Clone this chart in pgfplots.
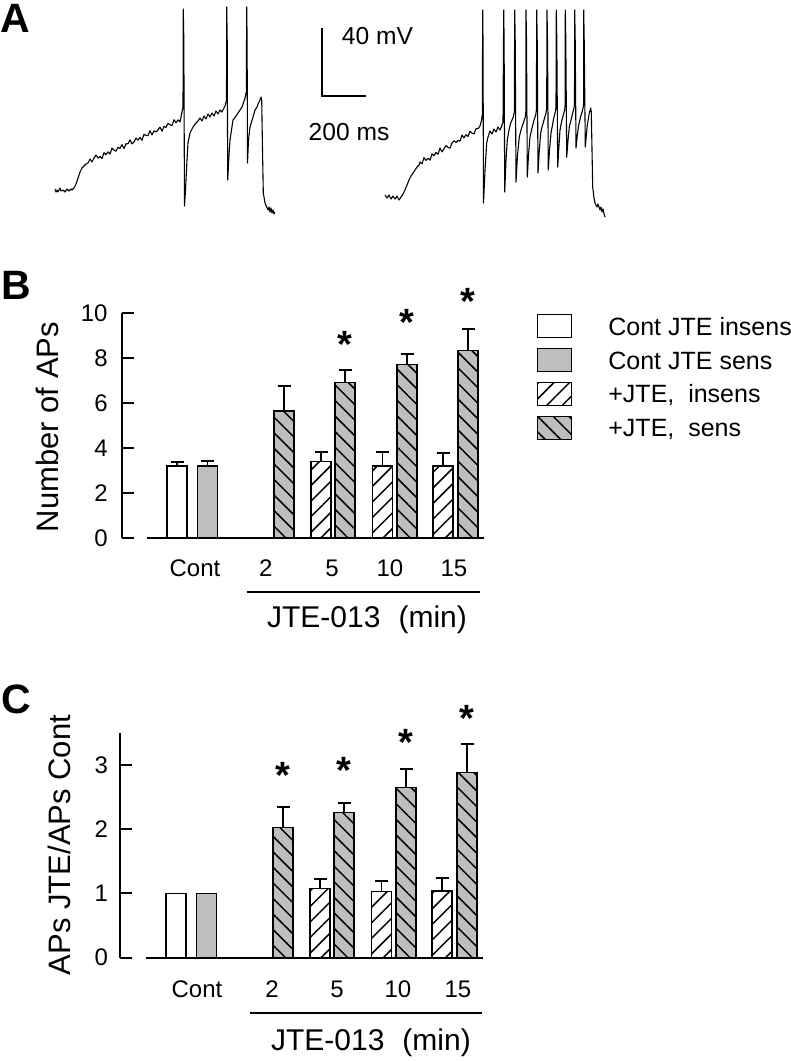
\documentclass[border=0pt]{standalone}
\usepackage{pgfplots}
\pgfplotsset{compat=1.18}
\usepackage{pgfplotstable}
\usepackage{fontspec}
\setmainfont{Liberation Sans}
\usetikzlibrary{patterns.meta}
\definecolor{bargray}{RGB}{190,190,190}

% Panel B data (x = horizontal position of the bar)
\pgfplotstableread{
x y e
177 3.2 0.19
}\bci
\pgfplotstableread{
x y e
207.5 3.2 0.22
}\bcs
\pgfplotstableread{
x y e
321 3.4 0.41
382.5 3.2 0.62
443 3.2 0.60
}\bji
\pgfplotstableread{
x y e
284 5.65 1.12
345 6.90 0.57
407 7.72 0.44
468 8.33 0.95
}\bjs
\pgfplotstableread{
x y
345 8.99
407 9.95
468 10.91
}\bst
% Panel C data
\pgfplotstableread{
x y
177 1.0
}\cci
\pgfplotstableread{
x y
207.5 1.0
}\ccs
\pgfplotstableread{
x y e
321 1.08 0.14
382.5 1.03 0.17
443 1.04 0.20
}\cji
\pgfplotstableread{
x y e
284 2.03 0.31
345 2.26 0.15
407 2.65 0.29
468 2.88 0.44
}\cjs
\pgfplotstableread{
x y
284 2.97
345 3.05
407 3.49
468 3.86
}\cst

\pgfplotsset{
  legimg/.style={legend image code/.code={%
      \draw[##1, line width=0.7pt] (0pt,-5.75pt) rectangle (17pt,5.75pt);}},
  barbase/.style={ybar, bar width=20, bar shift=0pt, draw=black, line width=0.7pt, legimg},
  s-ci/.style={barbase, fill=white},
  s-cs/.style={barbase, fill=bargray},
  s-ji/.style={barbase, fill=white, postaction={pattern={Lines[angle=45,distance=5.5pt,line width=0.75pt]}}},
  s-js/.style={barbase, fill=bargray, postaction={pattern={Lines[angle=-45,distance=5.5pt,line width=0.75pt]}}},
  s-star/.style={only marks, mark=text, text mark={*}, text mark as node=true,
      text mark style={font=\bfseries\fontsize{19}{19}\selectfont, inner sep=0pt, anchor=center, yshift=-4.2pt}, forget plot},
  panel/.style={
    scale only axis, width=181pt, clip=false,
    axis y line*=left, axis x line*=bottom,
    x axis line style={draw=none},
    y axis line style={line width=1pt},
    xtick style={draw=none},
    ytick style={line width=1pt, black},
    tick align=inside, major tick length=6pt,
    tick label style={font=\fontsize{12}{14}\selectfont},
    /pgf/number format/assume math mode=true,
    error bars/y dir=plus, error bars/y explicit,
    error bars/error bar style={line width=0.8pt, black},
    error bars/error mark options={rotate=90, line width=1pt, black, mark size=3.25pt},
  },
}

\begin{document}
\begin{tikzpicture}
\useasboundingbox (0,0) rectangle (395.5pt,-530.5pt);

% ---------------- Panel A ----------------
\begin{axis}[scale only axis, width=395.5pt, height=115pt, at={(0pt,0pt)}, anchor=north west,
  xmin=0, xmax=791, ymin=0, ymax=230, y dir=reverse, axis lines=none, clip=false]
\addplot[black, line width=0.55pt, line join=round] coordinates {
(55,189) (56,192) (57,190) (58,192) (60,188) (61,191) (63,190) (65,192) (67,189) (69,191) (71,189) (72,190)
(74,188) (76,184) (78,178) (80,172) (82,168) (84,166) (86,164)
(88,163) (90,159) (92,162) (94,158) (96,155) (98,158) (100,156.5) (102,158.6) (104,152.7) (106,154.8)
(108,151.9) (110,154) (112,148) (114,150.1) (116,151.2) (118,147.3) (120,148.4) (122,144.5) (124,148.6)
(126,143.7) (128,143.7) (130,139.8) (132,143.9) (134,142) (136,138.1) (138,140.2) (140,137.3) (142,140.3)
(144,134.4) (146,135.5) (148,135.6) (150,130.7) (152,134.8) (154,130.9) (156,132) (158,130) (160,127.1)
(162,131.2) (164,126.3) (166,127.4) (168,123.5) (170,124.6) (172,125.7) (174,119.7) (176,122.8) (178,119.9)
(180,122) (181,117) (182,112) (183,107) (183.3,9) (183.8,40) (184.5,206) (185.5,190)
(187,160) (188,143) (190,133) (193,127) (196,123) (198,121) (200,118) (202,121) (204,116) (206,119)
(208,114) (210,117) (212,113) (214,116) (216,111) (218,114) (220,110) (222,112) (224,108) (225,106)
(226.5,100) (226.7,7) (227.2,40) (227.7,180)
(229,155) (230,140) (233,120) (236,116) (238,113) (240,110) (242,107) (243,104) (245,98) (246.3,92) (246.7,7) (247.1,40)
(247.5,163) (248.5,140) (250,127) (253,117) (255,110) (257,107) (258,104) (260,100) (261,97) (261.7,100)
(262.5,150) (263.3,193) (265,203) (266.7,207) (268,210) (269,207) (270,212) (271,208) (272,213) (273,210) (274,214) (275,212)
};
\addplot[black, line width=0.55pt, line join=round] coordinates {
(385,195) (387,198) (389,195) (391,199) (393,196) (395,199) (397,196) (399,200) (401,197) (403,194)
(405,190) (407,185) (409,180) (411,176) (413,173) (415,170) (417,167) (419,165)
(420,162) (422,163.8) (424,157.6) (426,160.4) (428,158.3) (430,160.1) (432,153.9) (434,155.7) (436,152.5)
(438,154.3) (440,148.1) (442,151.9) (444,148.8) (446,145.6) (448,147.4) (450,148.2) (452,143) (454,140.8)
(456,142.6) (458,140.4) (460,141.2) (462,135.1) (464,137.9) (466,134.7) (468,136.5) (470,131.3) (472,133.1)
(474,133.9) (476,128.7) (478,128.6) (480,126) (481.5,120) (482.3,115)
(482.7,10) (483,40) (483.5,203) (485,170) (486.7,143) (488,137) (490,131) (492,134) (494,129) (496,132)
(498,127) (500,130) (501.7,126) (503,122) (503.7,10) (504.1,40) (504.7,192) (506,160) (507.3,140)
(509,130) (510.7,123) (513.3,117) (514.3,112) (514.7,10) (515.2,40) (516,182) (517.5,155) (519.3,137)
(521,130) (523.3,123) (525.3,117) (525.8,112) (526,10) (526.5,40) (527.3,177) (528.5,155) (530,137)
(532,128) (534,120) (535.7,115) (536.4,110) (536.7,10) (537.2,40) (538,173) (539.3,150) (540.7,133)
(542,127) (544,120) (546,113) (546.7,108) (547,10) (547.5,40) (548.3,170) (549.5,150) (551,133)
(552.5,125) (554,117) (555.3,112) (556,107) (556.3,10) (556.8,40) (557.7,167) (558.8,148) (560,130)
(561.5,122) (563.3,115) (564.7,110) (565.1,105) (565.3,10) (565.8,40) (566.7,157) (568,140) (569.3,127)
(571,120) (572.7,113) (574,108) (574.5,104) (574.7,10) (575.2,40) (576,148) (577.3,135) (578.7,125)
(580.3,118) (582,112) (583.3,107) (583.6,104) (583.7,10) (584.2,40) (585.3,147) (586.3,135) (587.3,125)
(589.3,113) (590.7,108) (591.3,112) (592.7,187) (594,198) (595,203) (597,207) (598,204) (600,210)
(601,207) (602,212) (603,209) (604,214) (605,217)
};
\draw[line width=1pt] (axis cs:322,28) -- (axis cs:322,96) -- (axis cs:366,96);
\node[font=\fontsize{12.3}{14}\selectfont] at (axis cs:377.5,36) {40 mV};
\node[font=\fontsize{12.3}{14}\selectfont] at (axis cs:349,132) {200 ms};
\end{axis}

% ---------------- Panel B ----------------
\begin{axis}[panel, height=112.5pt, at={(61pt,-269pt)}, anchor=south west,
  xmin=122, xmax=484, ymin=0, ymax=10,
  xtick={195,265.7,332,390,454}, xticklabels={Cont,2,5,10,15},
  ytick={0,2,4,6,8,10},
  yticklabel style={anchor=east, inner sep=0pt, xshift=-7pt},
  xticklabel style={anchor=north, inner sep=0pt, text height=8.6pt, text depth=0pt, yshift=-10.65pt},
  ylabel={Number of APs},
  ylabel style={at={(axis description cs:-0.2058,0.493)}, anchor=center, font=\fontsize{15.5}{18}\selectfont},
  legend cell align=left,
  legend style={draw=none, fill=none, inner sep=0pt, outer sep=0pt,
    at={(axis description cs:1.1464,0.9956)}, anchor=north west,
    font=\fontsize{12.5}{15}\selectfont, row sep=4.75pt, column sep=0pt,
    nodes={inner sep=0pt, text height=8.95pt, text depth=0pt}},
]
\addplot[s-ci] table[x=x, y=y, y error=e] {\bci};
\addlegendentry{\hspace*{18pt}Cont JTE insens}
\addplot[s-cs] table[x=x, y=y, y error=e] {\bcs};
\addlegendentry{\hspace*{18pt}Cont JTE sens}
\addplot[s-ji] table[x=x, y=y, y error=e] {\bji};
\addlegendentry{\hspace*{18pt}+JTE,\ \ insens}
\addplot[s-js] table[x=x, y=y, y error=e] {\bjs};
\addlegendentry{\hspace*{18pt}+JTE,\ \ sens}
\addplot[s-star] table[x=x, y=y] {\bst};
\draw[line width=1pt] (axis cs:147,0) -- (axis cs:484,0);
\draw[line width=1pt] (axis cs:246.7,-2.387) -- (axis cs:480,-2.387);
\node[font=\fontsize{15}{18}\selectfont] at (axis cs:367,-3.644) {JTE-013\hspace{0.6em}(min)};
\end{axis}

% ---------------- Panel C ----------------
\begin{axis}[panel, height=112.4pt, at={(60pt,-478.85pt)}, anchor=south west,
  xmin=121, xmax=483, ymin=0, ymax=3.5,
  xtick={198,273,338,399,459}, xticklabels={Cont,2,5,10,15},
  ytick={0,1,2,3},
  yticklabel style={anchor=east, inner sep=0pt, xshift=-5.85pt},
  xticklabel style={anchor=north, inner sep=0pt, text height=8.6pt, text depth=0pt, yshift=-11.15pt},
  ylabel={APs JTE/APs Cont},
  ylabel style={at={(axis description cs:-0.1685,0.501)}, anchor=center, font=\fontsize{15.5}{18}\selectfont},
]
\addplot[s-ci, error bars/y dir=none] table[x=x, y=y] {\cci};
\addplot[s-cs, error bars/y dir=none] table[x=x, y=y] {\ccs};
\addplot[s-ji] table[x=x, y=y, y error=e] {\cji};
\addplot[s-js] table[x=x, y=y, y error=e] {\cjs};
\addplot[s-star] table[x=x, y=y] {\cst};
\draw[line width=1pt] (axis cs:147,0) -- (axis cs:484,0);
\draw[line width=1pt] (axis cs:251,-0.861) -- (axis cs:483,-0.861);
\node[font=\fontsize{15}{18}\selectfont] at (axis cs:372,-1.328) {JTE-013\hspace{0.6em}(min)};
\end{axis}

% panel letters
\node[font=\bfseries\fontsize{20.5}{22}\selectfont] at (7.5pt,-9pt) {A};
\node[font=\bfseries\fontsize{20.5}{22}\selectfont] at (8pt,-142.5pt) {B};
\node[font=\bfseries\fontsize{20.5}{22}\selectfont] at (8pt,-349.75pt) {C};
\end{tikzpicture}
\end{document}
